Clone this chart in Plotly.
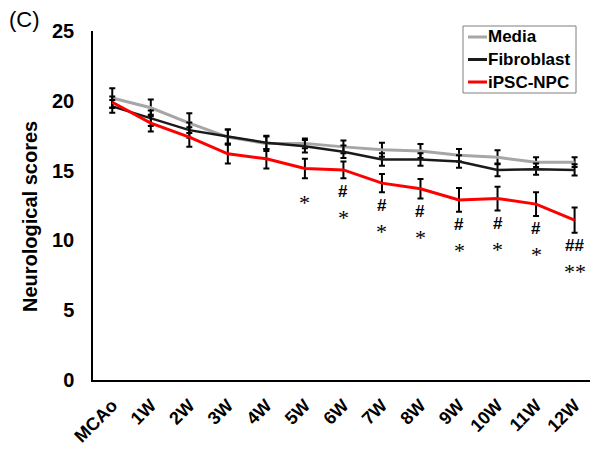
import plotly.graph_objects as go

categories = ["MCAo", "1W", "2W", "3W", "4W", "5W", "6W", "7W", "8W", "9W", "10W", "11W", "12W"]

media = [20.2, 19.5, 18.4, 17.4, 16.95, 16.95, 16.7, 16.5, 16.4, 16.1, 15.95, 15.6, 15.6]
media_err = [0.7, 0.6, 0.7, 0.55, 0.55, 0.35, 0.45, 0.5, 0.5, 0.45, 0.5, 0.35, 0.35]

fibro = [19.6, 18.75, 17.9, 17.45, 17.0, 16.75, 16.35, 15.8, 15.8, 15.65, 15.05, 15.1, 15.05]
fibro_err = [0.45, 0.55, 0.55, 0.5, 0.45, 0.45, 0.45, 0.45, 0.45, 0.45, 0.45, 0.4, 0.4]

ipsc = [19.9, 18.4, 17.4, 16.2, 15.85, 15.15, 15.05, 14.1, 13.7, 12.9, 13.0, 12.6, 11.45]
ipsc_err = [0.4, 0.6, 0.7, 0.7, 0.7, 0.7, 0.6, 0.65, 0.7, 0.85, 0.85, 0.85, 0.9]

sig_top = ["", "", "", "", "", "*", "#", "#", "#", "#", "#", "#", "##"]
sig_bottom = ["", "", "", "", "", "", "*", "*", "*", "*", "*", "*", "**"]

series_names = ["Media", "Fibroblast", "iPSC-NPC"]
series_colors = ["#a6a6a6", "#1a1a1a", "#ff0000"]

STAR_FONT = "Liberation Serif, DejaVu Serif, serif"

fig = go.Figure()
for name, vals, errs, col, w in zip(series_names, [media, fibro, ipsc],
                                    [media_err, fibro_err, ipsc_err], series_colors, [3, 2.5, 3]):
    fig.add_trace(go.Scatter(
        x=categories, y=vals, name=name, mode="lines",
        line=dict(color=col, width=w),
        error_y=dict(type="data", array=errs, visible=True, color="black", thickness=2, width=3),
        showlegend=False,
    ))

for i, cat in enumerate(categories):
    base = ipsc[i] - ipsc_err[i]
    if sig_top[i]:
        star = "*" in sig_top[i]
        fig.add_annotation(
            x=cat, y=base, xref="x", yref="y", text=sig_top[i], showarrow=False,
            yanchor="middle", yshift=-(24 if star else 13),
            font=dict(family=STAR_FONT if star else "Liberation Sans", size=22 if star else 17,
                      color="#000000", weight="normal" if star else "bold"),
        )
    if sig_bottom[i]:
        fig.add_annotation(
            x=cat, y=base, xref="x", yref="y", text=sig_bottom[i], showarrow=False,
            yanchor="middle", yshift=-39,
            font=dict(family=STAR_FONT, size=22, color="#000000"),
        )

def px_x(p):
    return (p - 93) / 497.0

def px_y(p):
    return (380 - p) / 349.0

# panel label
fig.add_annotation(x=px_x(7), y=px_y(5), xref="paper", yref="paper", text="(C)", showarrow=False,
                   xanchor="left", yanchor="top",
                   font=dict(family="Liberation Sans", size=22, color="black"))

# y-axis title
fig.add_annotation(x=px_x(30), y=px_y(217), xref="paper", yref="paper", text="Neurological scores",
                   showarrow=False, textangle=-90, xanchor="center", yanchor="middle",
                   font=dict(family="Liberation Sans", size=20, color="black", weight="bold"))

# manual legend (box + short line samples + bold labels)
fig.add_shape(type="rect", xref="paper", yref="paper",
              x0=px_x(463), x1=px_x(576), y0=px_y(93), y1=px_y(26),
              line=dict(color="#7f7f7f", width=1), fillcolor="white", layer="above")
for k, (name, col) in enumerate(zip(series_names, series_colors)):
    yy = px_y(37 + 22.5 * k)
    fig.add_shape(type="line", xref="paper", yref="paper",
                  x0=px_x(468), x1=px_x(487), y0=yy, y1=yy,
                  line=dict(color=col, width=3), layer="above")
    fig.add_annotation(x=px_x(486), y=yy, xref="paper", yref="paper", text=name,
                       showarrow=False, xanchor="left", yanchor="middle",
                       font=dict(family="Liberation Sans", size=17, color="black", weight="bold"))

fig.update_layout(
    width=590, height=450,
    margin=dict(l=93, r=0, t=31, b=70),
    paper_bgcolor="white", plot_bgcolor="white",
    showlegend=False,
    font=dict(family="Liberation Sans", color="black"),
)
fig.update_xaxes(
    type="category", range=[-0.5, 12.4], showline=True, linecolor="black", linewidth=1.5,
    showgrid=False, zeroline=False, ticks="", tickangle=-45, ticklabelstandoff=6,
    tickfont=dict(family="Liberation Sans", size=18, color="black", weight="bold"),
)
fig.update_yaxes(
    range=[0, 25], tickvals=[0, 5, 10, 15, 20, 25], showline=True, linecolor="black", linewidth=1.5,
    showgrid=False, zeroline=False, ticks="", ticklabelstandoff=13,
    tickfont=dict(family="Liberation Sans", size=20, color="black", weight="bold"),
)

fig.write_html("out.html")
